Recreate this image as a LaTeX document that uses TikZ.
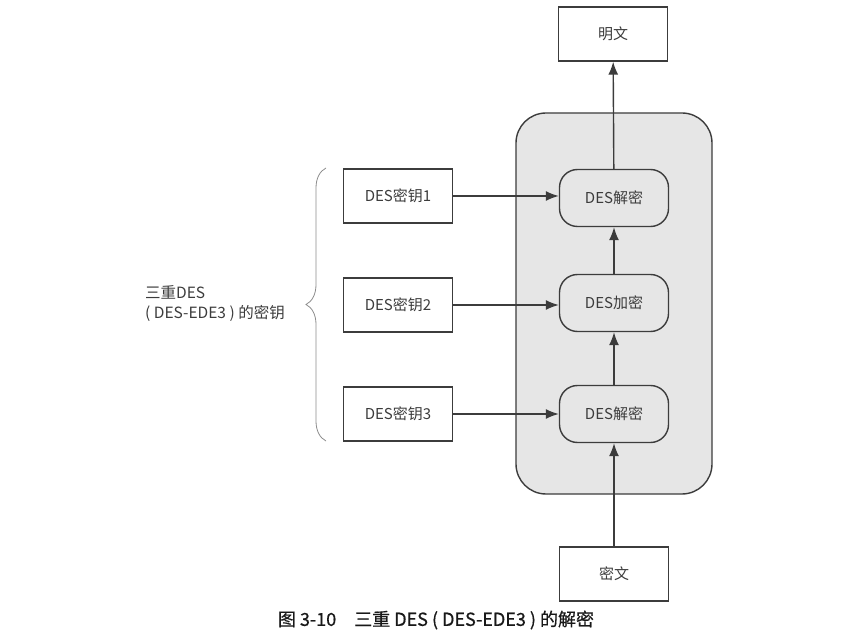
\documentclass[tikz,border=0pt]{standalone}
\usepackage{fontspec}
\setmainfont{Noto Sans CJK SC}
\newfontfamily\captionfont[FakeBold=0.6]{Noto Sans CJK SC}
\usetikzlibrary{arrows.meta,decorations.pathreplacing}

\definecolor{inkgray}{HTML}{3C3C3C}
\definecolor{panelgray}{HTML}{E6E6E6}

\tikzset{
	plainbox/.style={draw=inkgray, line width=1.4pt, fill=white, minimum width=109pt, minimum height=54pt, text=inkgray, font=\fontsize{15}{17}\selectfont},
	stagebox/.style={draw=inkgray, line width=1.4pt, fill=panelgray, rounded corners=18pt, minimum width=109pt, minimum height=57pt, text=inkgray, font=\fontsize{15}{17}\selectfont},
	flow/.style={draw=inkgray, line width=1.4pt, -{Latex[length=13pt,width=10pt]}}
}

\begin{document}
\begin{tikzpicture}[x=1pt, y=-1pt]
		%%%%% START %%%%%
		\useasboundingbox (0, 0) rectangle (852, 644);
		
		\draw[draw=inkgray, line width=1.4pt, fill=panelgray, rounded corners=30pt] (516, 113) rectangle (712, 494);
		
		\node[plainbox] (plain) at (613, 34) {明文};
		\node[stagebox] (dec1) at (614, 198) {DES解密};
		\node[stagebox] (enc2) at (614, 303) {DES加密};
		\node[stagebox] (dec3) at (614, 414) {DES解密};
		\node[plainbox] (cipher) at (614, 574) {密文};
		
		\node[plainbox] (key1) at (398, 196) {DES密钥1};
		\node[plainbox] (key2) at (398, 305) {DES密钥2};
		\node[plainbox] (key3) at (398, 414) {DES密钥3};
		
		\draw[flow] (cipher) -- (dec3);
		\draw[flow] (dec3) -- (enc2);
		\draw[flow] (enc2) -- (dec1);
		\draw[flow] (dec1) -- (plain);
		
		\draw[flow] (key1) -- (key1 -| dec1.west);
		\draw[flow] (key2) -- (key2 -| enc2.west);
		\draw[flow] (key3) -- (key3 -| dec3.west);
		
		\coordinate (bracelow) at (326, 441);
		\coordinate (bracehigh) at (326, 168);
		\draw[draw=black!45, line width=0.8pt, decorate, decoration={brace, amplitude=20pt}] (bracelow) -- (bracehigh);
		\node[anchor=west, align=left, text=inkgray, inner sep=0pt, font=\fontsize{15.5}{20}\selectfont] (keylabel) at (145, 304) {三重DES\\( DES-EDE3 ) 的密钥};
		
		\node[text=black!90, font=\fontsize{18}{20}\selectfont\captionfont] (caption) at (436, 620) {图 3-10\quad 三重 DES ( DES-EDE3 ) 的解密};
		
		%%%%% END %%%%%
	\end{tikzpicture}
\end{document}
